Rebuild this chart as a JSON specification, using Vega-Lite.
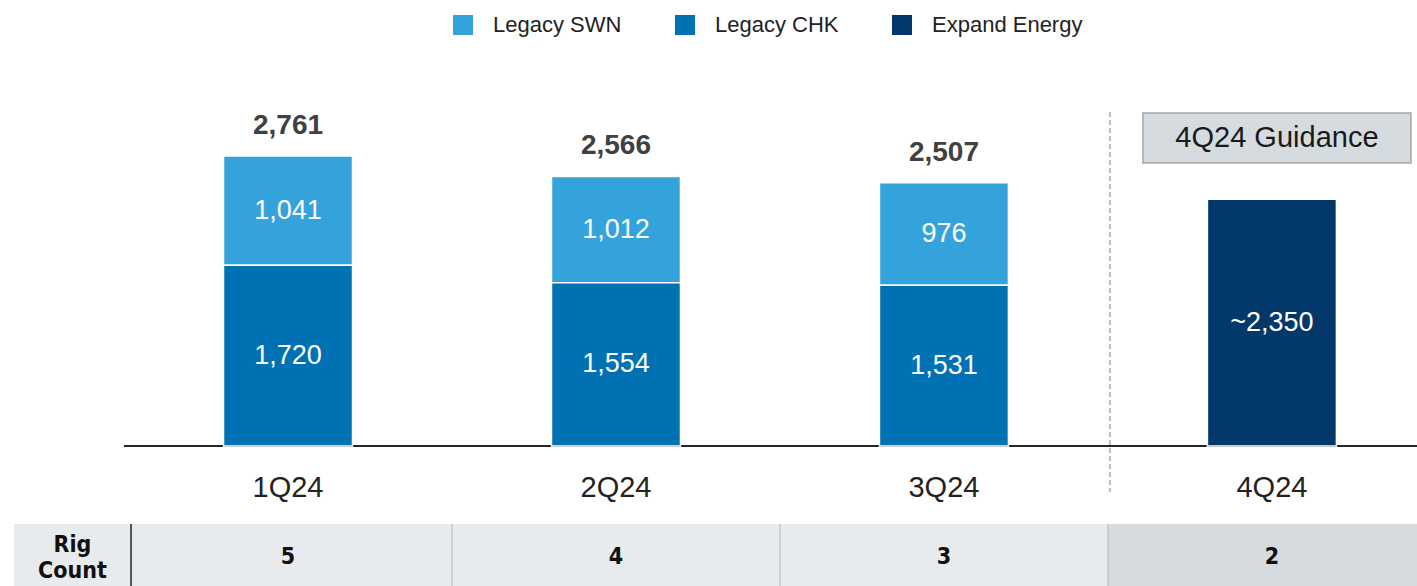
{
  "$schema": "https://vega.github.io/schema/vega-lite/v6.json",
  "width": 1417,
  "height": 586,
  "autosize": {"type": "none"},
  "padding": 0,
  "background": "white",
  "config": {"view": {"stroke": null}, "font": "Liberation Sans"},
  "datasets": {
    "bars": [
      {"quarter": "1Q24", "series": "Legacy SWN", "value": 1041, "label": "1,041"},
      {"quarter": "1Q24", "series": "Legacy CHK", "value": 1720, "label": "1,720"},
      {"quarter": "2Q24", "series": "Legacy SWN", "value": 1012, "label": "1,012"},
      {"quarter": "2Q24", "series": "Legacy CHK", "value": 1554, "label": "1,554"},
      {"quarter": "3Q24", "series": "Legacy SWN", "value": 976, "label": "976"},
      {"quarter": "3Q24", "series": "Legacy CHK", "value": 1531, "label": "1,531"},
      {"quarter": "4Q24", "series": "Expand Energy", "value": 2350, "label": "~2,350"}
    ],
    "rigs": [
      {"quarter": "1Q24", "rigs": 5},
      {"quarter": "2Q24", "rigs": 4},
      {"quarter": "3Q24", "rigs": 3},
      {"quarter": "4Q24", "rigs": 2}
    ],
    "quarters": [
      {"quarter": "1Q24"},
      {"quarter": "2Q24"},
      {"quarter": "3Q24"},
      {"quarter": "4Q24"}
    ],
    "rowLabel": [{"label": "Rig Count"}],
    "guidance": [{"quarter": "4Q24", "label": "4Q24 Guidance"}]
  },
  "layer": [
    {
      "data": {"name": "rigs"},
      "mark": {"type": "rect"},
      "encoding": {
        "x": {"field": "quarter", "type": "nominal", "bandPosition": -0.771,
              "scale": {"domain": ["1Q24", "2Q24", "3Q24", "4Q24"], "paddingInner": 0.6067, "paddingOuter": 0.4636, "align": 0.735, "round": false},
              "axis": null},
        "x2": {"field": "quarter", "bandPosition": 1.771},
        "y": {"datum": -743, "type": "quantitative", "scale": {"domain": [-1333, 4246], "nice": false, "zero": false}, "axis": null},
        "y2": {"datum": -1333},
        "fill": {"condition": {"test": "datum.quarter === '4Q24'", "value": "#D6DBDF"}, "value": "#E8EBEE"}
      }
    },
    {
      "data": {"name": "rowLabel"},
      "mark": {"type": "rect", "fill": "#E8EBEE"},
      "encoding": {
        "x": {"datum": "1Q24", "type": "nominal", "bandPosition": -1.624},
        "x2": {"datum": "1Q24", "bandPosition": -0.717},
        "y": {"datum": -743, "type": "quantitative"},
        "y2": {"datum": -1333}
      }
    },
    {
      "data": {"name": "quarters"},
      "transform": [{"filter": "datum.quarter !== '1Q24'"}],
      "mark": {"type": "rule", "stroke": "#C4C4C4", "strokeWidth": 1.5},
      "encoding": {
        "x": {"field": "quarter", "type": "nominal", "bandPosition": -0.771},
        "y": {"datum": -743, "type": "quantitative"},
        "y2": {"datum": -1333}
      }
    },
    {
      "data": {"name": "rowLabel"},
      "mark": {"type": "rule", "stroke": "#555555", "strokeWidth": 2},
      "encoding": {
        "x": {"datum": "1Q24", "type": "nominal", "bandPosition": -0.717},
        "y": {"datum": -743, "type": "quantitative"},
        "y2": {"datum": -1333}
      }
    },
    {
      "data": {"name": "guidance"},
      "mark": {"type": "rule", "stroke": "#BFBFBF", "strokeWidth": 2, "strokeDash": [5, 3]},
      "encoding": {
        "x": {"field": "quarter", "type": "nominal", "bandPosition": -0.756},
        "y": {"datum": 3180, "type": "quantitative"},
        "y2": {"datum": -438}
      }
    },
    {
      "data": {"name": "rowLabel"},
      "mark": {"type": "rule", "stroke": "#262626", "strokeWidth": 2},
      "encoding": {
        "x": {"datum": "1Q24", "type": "nominal", "bandPosition": -0.771},
        "x2": {"datum": "4Q24", "bandPosition": 2},
        "y": {"datum": 0, "type": "quantitative"}
      }
    },
    {
      "data": {"name": "bars"},
      "mark": {"type": "bar", "stroke": "white", "strokeWidth": 1.5},
      "encoding": {
        "x": {"field": "quarter", "type": "nominal"},
        "y": {"field": "value", "type": "quantitative", "stack": "zero"},
        "color": {
          "field": "series", "type": "nominal",
          "scale": {"domain": ["Legacy SWN", "Legacy CHK", "Expand Energy"], "range": ["#34A3DB", "#0071B3", "#02386A"]},
          "legend": {
            "title": null, "orient": "none", "legendX": 452, "legendY": 14, "direction": "horizontal",
            "symbolType": "square", "symbolSize": 400, "symbolStrokeWidth": 0, "symbolOpacity": 1,
            "labelFontSize": 22, "labelColor": "#222222", "labelOffset": 19, "columnPadding": 52, "padding": 0,
            "labelFont": "Liberation Sans"
          }
        },
        "order": {"field": "series", "sort": "ascending"}
      }
    },
    {
      "data": {"name": "bars"},
      "mark": {"type": "text", "color": "white", "fontSize": 27, "baseline": "middle", "align": "center"},
      "encoding": {
        "x": {"field": "quarter", "type": "nominal"},
        "y": {"field": "value", "type": "quantitative", "stack": "zero", "bandPosition": 0.5},
        "detail": {"field": "series"},
        "order": {"field": "series", "sort": "ascending"},
        "text": {"field": "label"}
      }
    },
    {
      "data": {"name": "bars"},
      "transform": [
        {"filter": "datum.quarter !== '4Q24'"},
        {"aggregate": [{"op": "sum", "field": "value", "as": "total"}], "groupby": ["quarter"]}
      ],
      "mark": {"type": "text", "color": "#404040", "fontSize": 28, "fontWeight": "bold", "baseline": "middle", "align": "center", "dy": -30},
      "encoding": {
        "x": {"field": "quarter", "type": "nominal"},
        "y": {"field": "total", "type": "quantitative"},
        "text": {"field": "total", "type": "quantitative", "format": ","}
      }
    },
    {
      "data": {"name": "guidance"},
      "mark": {"type": "rect", "fill": "#D6DBDF", "stroke": "#A5A5A5", "strokeWidth": 1.5},
      "encoding": {
        "x": {"field": "quarter", "type": "nominal", "bandPosition": -0.5},
        "x2": {"field": "quarter", "bandPosition": 1.578},
        "y": {"datum": 3170, "type": "quantitative"},
        "y2": {"datum": 2695}
      }
    },
    {
      "data": {"name": "guidance"},
      "mark": {"type": "text", "color": "#1A1A1A", "fontSize": 29, "baseline": "middle", "align": "center"},
      "encoding": {
        "x": {"field": "quarter", "type": "nominal", "bandPosition": 0.539},
        "y": {"datum": 2932, "type": "quantitative"},
        "text": {"field": "label"}
      }
    },
    {
      "data": {"name": "quarters"},
      "mark": {"type": "text", "color": "#222222", "fontSize": 29, "baseline": "middle", "align": "center", "dy": 42},
      "encoding": {
        "x": {"field": "quarter", "type": "nominal"},
        "y": {"datum": 0, "type": "quantitative"},
        "text": {"field": "quarter"}
      }
    },
    {
      "data": {"name": "rigs"},
      "mark": {"type": "text", "color": "#111111", "fontSize": 23, "fontWeight": "bold", "font": "Liberation Sans Narrow, DejaVu Sans Condensed, Liberation Sans", "baseline": "middle", "align": "center"},
      "encoding": {
        "x": {"field": "quarter", "type": "nominal"},
        "y": {"datum": -1057, "type": "quantitative"},
        "text": {"field": "rigs"}
      }
    },
    {
      "data": {"name": "rowLabel"},
      "mark": {"type": "text", "color": "#111111", "fontSize": 23, "fontWeight": "bold", "font": "Liberation Sans Narrow, DejaVu Sans Condensed, Liberation Sans", "baseline": "middle", "align": "center", "lineBreak": " ", "lineHeight": 26, "dy": -12},
      "encoding": {
        "x": {"datum": "1Q24", "type": "nominal", "bandPosition": -1.171},
        "y": {"datum": -1057, "type": "quantitative"},
        "text": {"field": "label"}
      }
    }
  ]
}
